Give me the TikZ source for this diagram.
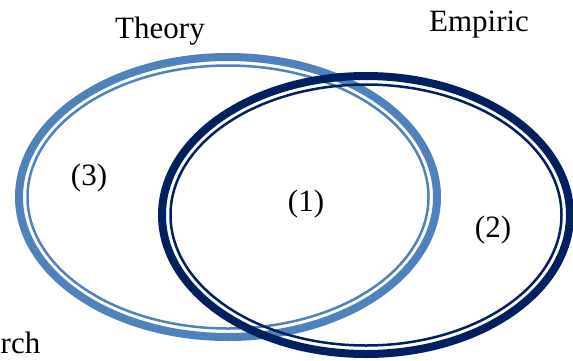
\documentclass[tikz,border=0pt]{standalone}
\usepackage{fontspec}
\setmainfont{Liberation Serif}
\definecolor{lightblue}{HTML}{4F81BD}
\definecolor{navy}{HTML}{002060}
\tikzset{
  outerring/.style={line width=8pt},
  innerring/.style={line width=2.5pt},
  lbl/.style={inner sep=0pt, font=\fontsize{31}{35}\selectfont}
}
\begin{document}
\begin{tikzpicture}[x=1pt,y=-1pt]
\useasboundingbox (0,0) rectangle (573,360);
\fill[white] (0,0) rectangle (573,360);
% Theory ellipse
\draw[outerring, lightblue] (228,197) ellipse [x radius=209, y radius=140];
\draw[innerring, lightblue] (228,197) ellipse [x radius=200.5, y radius=131.5];
% Empiric ellipse
\draw[outerring, navy] (366,215) ellipse [x radius=204, y radius=139];
\draw[innerring, navy] (366,215) ellipse [x radius=195.5, y radius=130.5];
% labels
\node[lbl, anchor=base] (theory) at (160,38) {Theory};
\node[lbl, anchor=base] (empiric) at (479,31) {Empiric};
\node[lbl] (three) at (89,178) {(3)};
\node[lbl] (one) at (306,204) {(1)};
\node[lbl] (two) at (493,230) {(2)};
\node[lbl, anchor=base west] (rch) at (0.5,353) {rch};
\end{tikzpicture}
\end{document}
